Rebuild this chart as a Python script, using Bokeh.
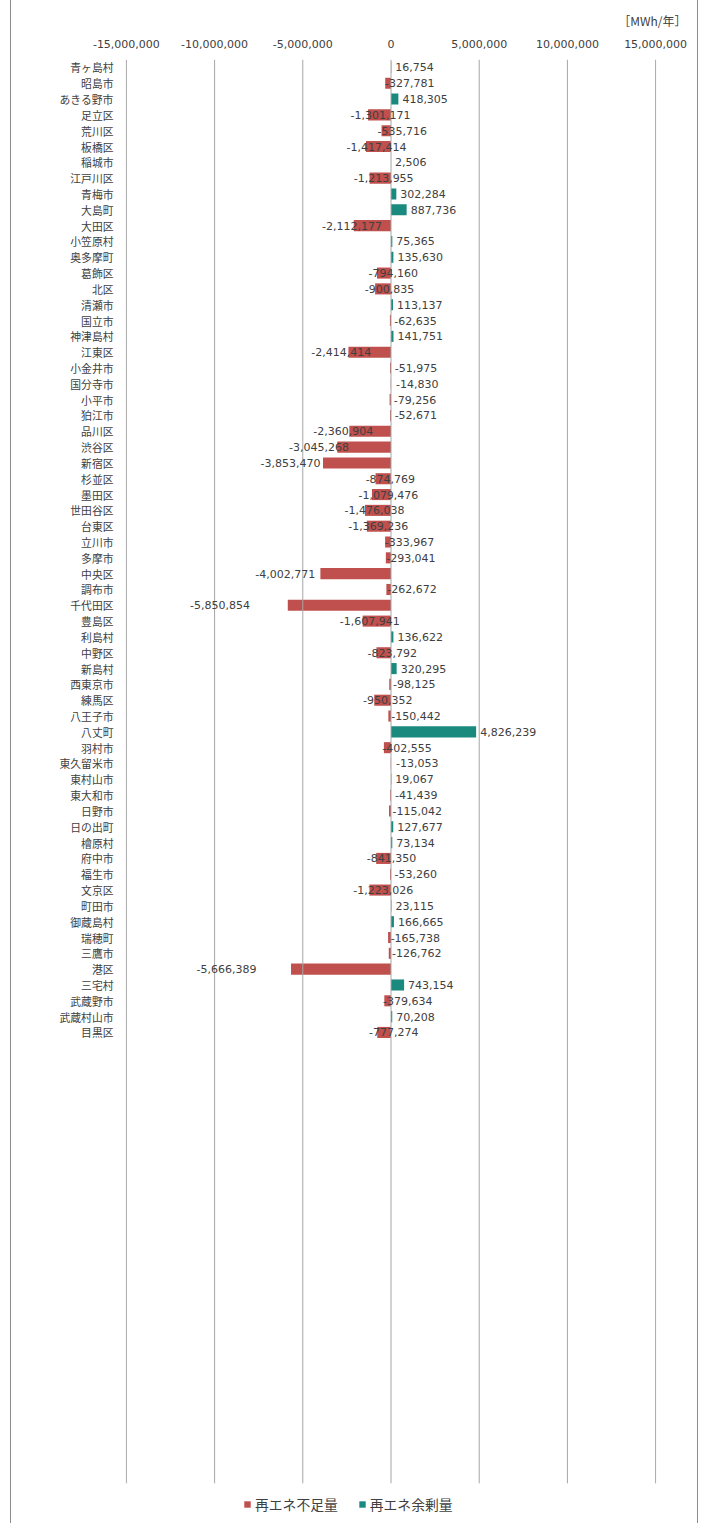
from bokeh.plotting import figure
from bokeh.models import (Range1d, FixedTicker, NumeralTickFormatter, Legend,
                          LegendItem, ColumnDataSource)
from bokeh.core.properties import value
from bokeh.embed import file_html
from bokeh.resources import INLINE

# ---------------- data ----------------
municipalities = [
    "青ヶ島村", "昭島市", "あきる野市", "足立区", "荒川区", "板橋区", "稲城市", "江戸川区",
    "青梅市", "大島町", "大田区", "小笠原村", "奥多摩町", "葛飾区", "北区", "清瀬市",
    "国立市", "神津島村", "江東区", "小金井市", "国分寺市", "小平市", "狛江市", "品川区",
    "渋谷区", "新宿区", "杉並区", "墨田区", "世田谷区", "台東区", "立川市", "多摩市",
    "中央区", "調布市", "千代田区", "豊島区", "利島村", "中野区", "新島村", "西東京市",
    "練馬区", "八王子市", "八丈町", "羽村市", "東久留米市", "東村山市", "東大和市", "日野市",
    "日の出町", "檜原村", "府中市", "福生市", "文京区", "町田市", "御蔵島村", "瑞穂町",
    "三鷹市", "港区", "三宅村", "武蔵野市", "武蔵村山市", "目黒区",
]
balance_mwh = [
    16754, -327781, 418305, -1301171, -535716, -1417414, 2506, -1213955,
    302284, 887736, -2112177, 75365, 135630, -794160, -900835, 113137,
    -62635, 141751, -2414414, -51975, -14830, -79256, -52671, -2360904,
    -3045268, -3853470, -874769, -1079476, -1476038, -1369236, -333967, -293041,
    -4002771, -262672, -5850854, -1607941, 136622, -823792, 320295, -98125,
    -950352, -150442, 4826239, -402555, -13053, 19067, -41439, -115042,
    127677, 73134, -841350, -53260, -1223026, 23115, 166665, -165738,
    -126762, -5666389, 743154, -379634, 70208, -777274,
]
x_ticks = [-15000000, -10000000, -5000000, 0, 5000000, 10000000, 15000000]
series_names = ["再エネ不足量", "再エネ余剰量"]
unit_text = "［MWh/年］"

RED = "#C0504D"
TEAL = "#1A8A7E"
TXT = "#404040"
GRID = "#a6a6a6"

# plot area spans 90 category slots (the chart leaves the lower slots empty)
SLOT_TOP, SLOT_BOTTOM, FRAME_BOTTOM = -0.5, 89.5, 92.04

idx = list(range(len(municipalities)))
neg = [(i, v) for i, v in zip(idx, balance_mwh) if v < 0]
pos = [(i, v) for i, v in zip(idx, balance_mwh) if v >= 0]

neg_src = ColumnDataSource(dict(
    y=[i for i, v in neg], v=[v for i, v in neg],
    lx=[2 * v for i, v in neg],
    t=[f"{v:,}" for i, v in neg]))
pos_src = ColumnDataSource(dict(
    y=[i for i, v in pos], v=[v for i, v in pos],
    lx=[v for i, v in pos],
    t=[f"{v:,}" for i, v in pos]))

p = figure(width=688, height=1523, output_backend="svg", toolbar_location=None,
           x_range=Range1d(-15050000, 15050000),
           y_range=Range1d(FRAME_BOTTOM, SLOT_TOP),
           x_axis_location="above", min_border_left=114, min_border_right=43,
           min_border_top=59, min_border_bottom=0, title=unit_text)
p.outline_line_color = None
p.background_fill_color = "white"
p.border_fill_color = "white"
p.styles = {"margin-left": "10px",
            "border-left": "1px solid #8c8c8c", "border-right": "1px solid #8c8c8c"}

p.title.align = "right"
p.title.offset = -30
p.title.standoff = 16
p.title.text_font = "Noto Sans CJK JP"
p.title.text_font_size = "12px"
p.title.text_font_style = "normal"
p.title.text_color = TXT

r_neg = p.hbar(y="y", left=0, right="v", height=0.7, source=neg_src,
               fill_color=RED, line_color=None)
r_pos = p.hbar(y="y", left=0, right="v", height=0.7, source=pos_src,
               fill_color=TEAL, line_color=None)

# vertical gridlines (drawn over the bars, stop at the last category slot)
p.segment(x0=x_ticks, y0=[SLOT_TOP] * len(x_ticks), x1=x_ticks,
          y1=[SLOT_BOTTOM] * len(x_ticks), line_color=GRID, line_width=1)

p.text(x="lx", y="y", text="t", source=neg_src, x_offset=5.5,
       text_align="left", text_baseline="middle", text_font=value("DejaVu Sans"),
       text_font_size="11px", text_color=TXT)
p.text(x="lx", y="y", text="t", source=pos_src, x_offset=4,
       text_align="left", text_baseline="middle", text_font=value("DejaVu Sans"),
       text_font_size="11px", text_color=TXT)

# x axis (top)
xa = p.xaxis[0]
xa.ticker = FixedTicker(ticks=x_ticks)
xa.formatter = NumeralTickFormatter(format="0,0")
xa.axis_line_color = None
xa.major_tick_line_color = None
xa.minor_tick_line_color = None
xa.major_label_standoff = 6
xa.major_label_text_font = "DejaVu Sans"
xa.major_label_text_font_size = "11px"
xa.major_label_text_color = TXT

# y axis (categories)
ya = p.yaxis[0]
ya.ticker = FixedTicker(ticks=idx)
ya.major_label_overrides = {i: n for i, n in zip(idx, municipalities)}
ya.axis_line_color = None
ya.major_tick_line_color = None
ya.minor_tick_line_color = None
ya.major_label_standoff = 6
ya.major_label_text_font = "Noto Sans CJK JP"
ya.major_label_text_font_size = "10.8px"
ya.major_label_text_color = TXT

p.xgrid.visible = False
p.ygrid.visible = False

legend = Legend(items=[LegendItem(label=series_names[0], renderers=[r_neg]),
                       LegendItem(label=series_names[1], renderers=[r_pos])],
                orientation="horizontal", location=(118, 9),
                glyph_width=8, glyph_height=8, label_standoff=4, spacing=20,
                padding=0, margin=0, border_line_color=None,
                background_fill_alpha=0, label_height=16,
                label_text_font="Noto Sans CJK JP", label_text_font_size="13.8px",
                label_text_color=TXT)
p.add_layout(legend, "center")

open("out.html", "w").write(file_html(p, INLINE))
